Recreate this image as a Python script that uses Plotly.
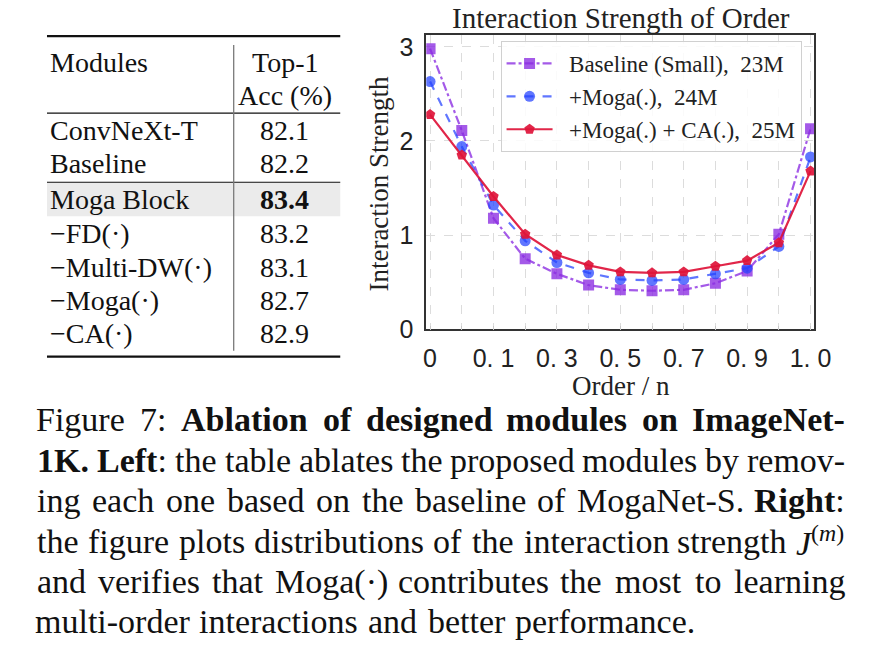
import re
import plotly.graph_objects as go

# ---------------- data ----------------
order_idx = list(range(13))
order_tick_pos = [0, 2, 4, 6, 8, 10, 12]
order_tick_text = ["0", "0. 1", "0. 3", "0. 5", "0. 7", "0. 9", "1. 0"]

baseline_small = [2.98, 2.11, 1.18, 0.75, 0.59, 0.47, 0.42, 0.41, 0.42, 0.49, 0.62, 1.01, 2.13]
moga = [2.63, 1.94, 1.32, 0.94, 0.71, 0.60, 0.53, 0.52, 0.53, 0.59, 0.65, 0.88, 1.83]
moga_ca = [2.28, 1.85, 1.41, 1.01, 0.79, 0.68, 0.61, 0.60, 0.61, 0.67, 0.73, 0.92, 1.68]

series_names = ["Baseline (Small),  23M", "+Moga(.),  24M", "+Moga(.) + CA(.),  25M"]

y_ticks = [0, 1, 2, 3]

table_modules = ["ConvNeXt-T", "Baseline", "Moga Block", "\u2212FD(\u00b7)",
                 "\u2212Multi-DW(\u00b7)", "\u2212Moga(\u00b7)", "\u2212CA(\u00b7)"]
table_acc = ["82.1", "82.2", "83.4", "83.2", "83.1", "82.7", "82.9"]
table_bold_row = 2

caption_lines = [
    ["Figure", "7:", "<b>Ablation</b>", "<b>of</b>", "<b>designed</b>", "<b>modules</b>",
     "<b>on</b>", "<b>ImageNet-</b>"],
    ["<b>1K.</b>", "<b>Left</b>:", "the", "table", "ablates", "the", "proposed", "modules",
     "by", "remov-"],
    ["ing", "each", "one", "based", "on", "the", "baseline", "of", "MogaNet-S.", "<b>Right</b>:"],
    ["the", "figure", "plots", "distributions", "of", "the", "interaction", "strength",
     "<i>J</i><sup>(<i>m</i>)</sup>"],
    ["and", "verifies", "that", "Moga(\u00b7)", "contributes", "the", "most", "to", "learning"],
    ["multi-order", "interactions", "and", "better", "performance."],
]

# ---------------- helpers ----------------
W, H = 890, 661
SERIF = "Liberation Serif"
SANS = "Liberation Sans"


def px(x):
    return x / W


def py(y):
    return 1 - y / H


REG = dict(zip(" !()+,-./0123456789:;%", [250, 333, 333, 333, 564, 250, 333, 250, 278] + [500] * 10 + [278, 278, 833]))
REG.update(dict(zip("ABCDEFGHIJKLMNOPQRSTUVWXYZ",
                    [722, 667, 667, 722, 611, 556, 722, 722, 333, 389, 722, 611, 889, 722, 722, 556, 722, 667, 556, 611, 722, 722, 944, 722, 722, 611])))
REG.update(dict(zip("abcdefghijklmnopqrstuvwxyz",
                    [444, 500, 444, 500, 444, 333, 500, 500, 278, 278, 500, 278, 778, 500, 500, 500, 500, 333, 389, 278, 500, 500, 722, 500, 500, 444])))
REG["\u00b7"] = 250
BOLD = dict(REG)
BOLD[":"] = 333
BOLD.update(dict(zip("ABCDEFGHIJKLMNOPQRSTUVWXYZ",
                     [722, 667, 722, 722, 667, 611, 778, 778, 389, 500, 778, 667, 944, 722, 778, 611, 778, 722, 556, 667, 722, 722, 1000, 722, 722, 667])))
BOLD.update(dict(zip("abcdefghijklmnopqrstuvwxyz",
                     [500, 556, 444, 556, 444, 333, 500, 556, 278, 333, 556, 278, 833, 556, 500, 556, 556, 444, 389, 333, 556, 500, 722, 500, 500, 444])))


def text_width(markup, fs):
    bold = sup = False
    total = 0.0
    for part in re.split(r"(<[^>]+>)", markup):
        if part.startswith("<"):
            tag = part.strip("<>/").lower()
            closing = part.startswith("</")
            if tag == "b":
                bold = not closing
            elif tag == "sup":
                sup = not closing
            continue
        for ch in part:
            w = (BOLD if bold else REG).get(ch, 500)
            total += w * (0.7 if sup else 1.0)
    return total * fs / 1000.0


PURPLE = "rgba(138,43,226,0.78)"
BLUE = "rgba(35,65,255,0.72)"
RED = "rgba(222,20,58,0.92)"

fig = go.Figure()
for name, vals, col, dash, sym, size in [
    (series_names[0], baseline_small, PURPLE, "dashdot", "square", 11),
    (series_names[1], moga, BLUE, "dash", "circle", 11),
    (series_names[2], moga_ca, RED, "solid", "pentagon", 11),
]:
    fig.add_trace(go.Scatter(
        x=order_idx, y=vals, mode="lines+markers", name="\u00a0\u00a0" + name, legendgroup=name,
        line=dict(color=col, width=2.2, dash=dash),
        marker=dict(symbol=sym, size=size, color=col, line=dict(width=0)),
    ))

annotations = []
shapes = []

# chart texts
annotations.append(dict(x=px(632), y=py(15), xref="paper", yref="paper", showarrow=False,
                        text="Interaction Strength of Order", xanchor="center", yanchor="middle",
                        font=dict(family=SERIF, size=29, color="#222")))
annotations.append(dict(x=px(385), y=py(185), xref="paper", yref="paper", showarrow=False,
                        text="Interaction Strength", textangle=-90, xanchor="center", yanchor="middle",
                        font=dict(family=SERIF, size=27, color="#222")))
annotations.append(dict(x=px(632), y=py(393), xref="paper", yref="paper", showarrow=False,
                        text="Order / n", xanchor="center", yanchor="middle",
                        font=dict(family=SERIF, size=27, color="#222")))

# ---------------- table ----------------
TL, TR, VX, VAL_X = 45, 345, 236, 288
shapes.append(dict(type="rect", xref="paper", yref="paper", x0=px(TL), x1=px(TR), y0=py(219), y1=py(184),
                   fillcolor="#EBEBEB", line=dict(width=0), layer="below"))
for yy, lw in [(34, 2.2), (113, 1.2), (184, 1.2), (363, 2.2)]:
    shapes.append(dict(type="line", xref="paper", yref="paper", x0=px(TL), x1=px(TR), y0=py(yy), y1=py(yy),
                       line=dict(color="#111", width=lw)))
shapes.append(dict(type="line", xref="paper", yref="paper", x0=px(VX), x1=px(VX), y0=py(43), y1=py(357),
                   line=dict(color="#7a7a7a", width=1.3)))

TFS = 28
MOD_X = 46
annotations.append(dict(x=px(MOD_X), y=py(61), xref="paper", yref="paper", showarrow=False, text="Modules",
                        xanchor="left", yanchor="middle", font=dict(family=SERIF, size=TFS, color="#111")))
annotations.append(dict(x=px(VAL_X), y=py(61), xref="paper", yref="paper", showarrow=False, text="Top-1",
                        xanchor="center", yanchor="middle", font=dict(family=SERIF, size=TFS, color="#111")))
annotations.append(dict(x=px(VAL_X), y=py(95), xref="paper", yref="paper", showarrow=False, text="Acc (%)",
                        xanchor="center", yanchor="middle", font=dict(family=SERIF, size=TFS, color="#111")))
row_y = [131, 165, 202, 237, 271, 305, 339]
for i, (m, a) in enumerate(zip(table_modules, table_acc)):
    annotations.append(dict(x=px(MOD_X), y=py(row_y[i]), xref="paper", yref="paper", showarrow=False, text=m,
                            xanchor="left", yanchor="middle", font=dict(family=SERIF, size=TFS, color="#111")))
    annotations.append(dict(x=px(VAL_X), y=py(row_y[i]), xref="paper", yref="paper", showarrow=False,
                            text=("<b>%s</b>" % a) if i == table_bold_row else a,
                            xanchor="center", yanchor="middle", font=dict(family=SERIF, size=TFS, color="#111")))

# ---------------- caption (justified) ----------------
CFS = 34
cap_left = 35
cap_rights = [860, 860, 860, 860, 860, 706]
cap_base = [438, 479.5, 521, 562.5, 604, 645.5]
for li, words in enumerate(caption_lines):
    widths = [text_width(w, CFS) for w in words]
    gap = (cap_rights[li] - cap_left - sum(widths)) / (len(words) - 1)
    x = cap_left
    for w, wd in zip(words, widths):
        annotations.append(dict(x=px(x + wd / 2), y=py(cap_base[li] - 0.3 * CFS), xref="paper", yref="paper",
                                showarrow=False, text=w, xanchor="center", yanchor="middle",
                                font=dict(family=SERIF, size=CFS, color="#111")))
        x += wd + gap

GRID = dict(showgrid=True, gridcolor="#DCDCDC", griddash="dash", gridwidth=1)

fig.update_layout(
    width=W, height=H, margin=dict(l=0, r=0, t=0, b=0),
    paper_bgcolor="white", plot_bgcolor="white",
    showlegend=True,
    legend=dict(x=px(509), y=py(39), xanchor="left", yanchor="top",
                bgcolor="rgba(255,255,255,0.85)", bordercolor="#D0D0D0", borderwidth=1,
                font=dict(family=SERIF, size=23, color="#222"), itemwidth=46, tracegroupgap=0),
    xaxis=dict(domain=[px(433), px(830)], range=[-0.12, 12.12],
               tickvals=order_tick_pos, ticktext=order_tick_text, **GRID,
               minor=dict(tickvals=order_idx, ticks="inside", ticklen=4, tickcolor="#C8C8C8", **GRID),
               showline=True, mirror=True, linecolor="#333", linewidth=1.6,
               ticks="inside", ticklen=4, tickcolor="#C8C8C8", zeroline=False,
               tickfont=dict(family=SANS, size=25, color="#222"), ticklabelstandoff=6),
    yaxis=dict(domain=[1 - 335 / H, 1 - 33.3 / H], range=[0, 3.12], tickvals=y_ticks, **GRID,
               showline=True, mirror=True, linecolor="#333", linewidth=1.6,
               ticks="", zeroline=False,
               tickfont=dict(family=SANS, size=25, color="#222"), ticklabelstandoff=6),
    annotations=annotations, shapes=shapes,
)

fig.write_html("out.html")
